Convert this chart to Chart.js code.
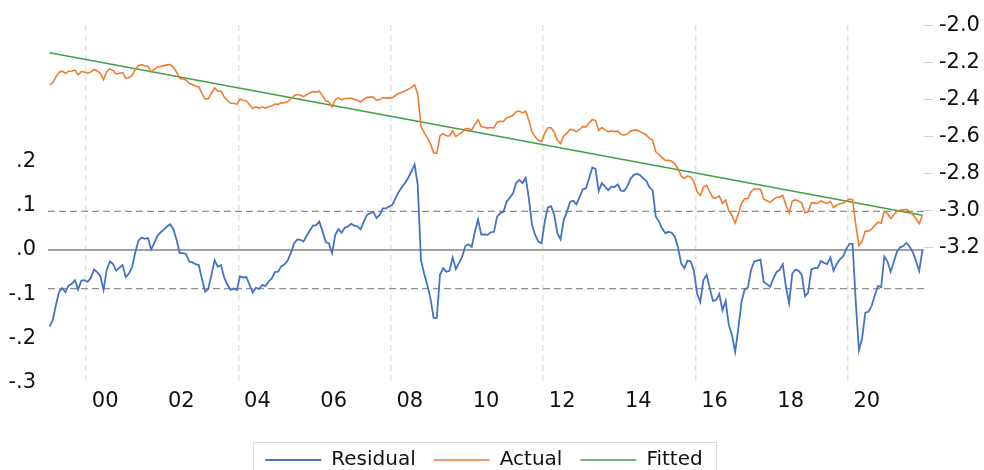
<!DOCTYPE html>
<html>
<head>
<meta charset="utf-8">
<title>Residual, Actual, Fitted</title>
<script src="https://cdn.jsdelivr.net/npm/chart.js@4/dist/chart.umd.min.js"></script>
<style>
  html, body { margin: 0; padding: 0; background: #ffffff; overflow: hidden; }
  #wrap { width: 984px; height: 480px; }
</style>
</head>
<body>
<div id="wrap"><canvas id="chart" width="984" height="480"></canvas></div>
<script>
// Monthly observations, January 1999 to December 2021
const firstYear = 1999;
const lastYear = 2022;

// Residual (left axis)
const residual = [
  -0.173, -0.158, -0.124, -0.094, -0.086, -0.095, -0.080, -0.076, -0.068, -0.089, -0.069, -0.068,
  -0.072, -0.063, -0.044, -0.050, -0.059, -0.090, -0.045, -0.026, -0.032, -0.047, -0.040, -0.034,
  -0.061, -0.053, -0.039, -0.005, 0.021, 0.028, 0.025, 0.027, 0.001, 0.016, 0.032, 0.040,
  0.046, 0.053, 0.058, 0.047, 0.023, -0.007, -0.007, -0.009, -0.026, -0.028, -0.032, -0.034,
  -0.065, -0.094, -0.088, -0.056, -0.023, -0.038, -0.034, -0.062, -0.078, -0.090, -0.087, -0.090,
  -0.059, -0.062, -0.061, -0.079, -0.096, -0.085, -0.088, -0.079, -0.081, -0.071, -0.064, -0.050,
  -0.049, -0.037, -0.033, -0.024, -0.007, 0.014, 0.024, 0.023, 0.019, 0.032, 0.044, 0.055,
  0.056, 0.064, 0.042, 0.018, 0.015, -0.007, 0.034, 0.047, 0.039, 0.050, 0.053, 0.059,
  0.055, 0.053, 0.047, 0.064, 0.079, 0.083, 0.086, 0.072, 0.079, 0.094, 0.094, 0.098,
  0.102, 0.117, 0.131, 0.142, 0.151, 0.163, 0.177, 0.193, 0.147, -0.023, -0.053, -0.079,
  -0.109, -0.153, -0.153, -0.056, -0.041, -0.049, -0.047, -0.017, -0.043, -0.029, -0.015, 0.009,
  0.013, 0.007, 0.041, 0.069, 0.035, 0.035, 0.034, 0.040, 0.041, 0.075, 0.083, 0.086,
  0.109, 0.118, 0.128, 0.151, 0.158, 0.151, 0.163, 0.117, 0.056, 0.034, 0.019, 0.015,
  0.064, 0.096, 0.099, 0.079, 0.038, 0.024, 0.068, 0.086, 0.109, 0.111, 0.103, 0.120,
  0.137, 0.139, 0.162, 0.186, 0.183, 0.133, 0.151, 0.143, 0.135, 0.143, 0.142, 0.148,
  0.134, 0.133, 0.143, 0.160, 0.169, 0.172, 0.169, 0.162, 0.156, 0.141, 0.135, 0.075,
  0.064, 0.049, 0.038, 0.041, 0.039, 0.030, 0.005, -0.030, -0.041, -0.024, -0.026, -0.047,
  -0.098, -0.117, -0.068, -0.056, -0.086, -0.115, -0.113, -0.099, -0.136, -0.115, -0.169, -0.192,
  -0.230, -0.177, -0.117, -0.089, -0.085, -0.045, -0.026, -0.024, -0.022, -0.072, -0.077, -0.083,
  -0.065, -0.050, -0.045, -0.032, -0.083, -0.120, -0.053, -0.044, -0.047, -0.056, -0.104, -0.096,
  -0.044, -0.041, -0.041, -0.025, -0.029, -0.032, -0.017, -0.047, -0.032, -0.021, -0.015, 0.002,
  0.014, 0.014, -0.117, -0.226, -0.199, -0.142, -0.139, -0.126, -0.102, -0.081, -0.084, -0.015,
  -0.026, -0.049, -0.026, -0.004, 0.006, 0.009, 0.016, 0.007, -0.005, -0.026, -0.047, 0.000
];

// Actual (right axis)
const actual = [
  -2.321, -2.309, -2.278, -2.252, -2.247, -2.259, -2.247, -2.246, -2.242, -2.266, -2.249, -2.251,
  -2.258, -2.252, -2.237, -2.246, -2.258, -2.292, -2.250, -2.235, -2.244, -2.262, -2.258, -2.255,
  -2.286, -2.281, -2.270, -2.239, -2.216, -2.212, -2.219, -2.220, -2.249, -2.237, -2.224, -2.220,
  -2.217, -2.213, -2.211, -2.225, -2.252, -2.286, -2.289, -2.294, -2.314, -2.319, -2.327, -2.332,
  -2.366, -2.398, -2.395, -2.367, -2.337, -2.355, -2.354, -2.385, -2.404, -2.420, -2.420, -2.426,
  -2.398, -2.404, -2.407, -2.428, -2.448, -2.440, -2.446, -2.440, -2.446, -2.439, -2.435, -2.424,
  -2.426, -2.418, -2.417, -2.411, -2.397, -2.379, -2.373, -2.377, -2.384, -2.374, -2.365, -2.357,
  -2.360, -2.355, -2.380, -2.407, -2.413, -2.439, -2.401, -2.391, -2.402, -2.394, -2.394, -2.392,
  -2.399, -2.404, -2.413, -2.399, -2.388, -2.387, -2.387, -2.404, -2.400, -2.389, -2.392, -2.391,
  -2.390, -2.378, -2.367, -2.360, -2.354, -2.345, -2.334, -2.321, -2.371, -2.544, -2.577, -2.606,
  -2.639, -2.687, -2.690, -2.596, -2.584, -2.595, -2.596, -2.570, -2.599, -2.588, -2.577, -2.556,
  -2.556, -2.565, -2.534, -2.509, -2.546, -2.549, -2.554, -2.551, -2.553, -2.522, -2.517, -2.518,
  -2.498, -2.492, -2.485, -2.465, -2.462, -2.472, -2.463, -2.512, -2.576, -2.601, -2.620, -2.627,
  -2.581, -2.552, -2.552, -2.576, -2.620, -2.637, -2.596, -2.581, -2.561, -2.563, -2.574, -2.560,
  -2.546, -2.547, -2.528, -2.507, -2.513, -2.566, -2.551, -2.563, -2.574, -2.569, -2.573, -2.570,
  -2.587, -2.592, -2.585, -2.571, -2.565, -2.565, -2.572, -2.582, -2.591, -2.609, -2.618, -2.682,
  -2.696, -2.714, -2.728, -2.728, -2.733, -2.746, -2.774, -2.812, -2.826, -2.812, -2.818, -2.842,
  -2.896, -2.918, -2.872, -2.863, -2.897, -2.929, -2.930, -2.919, -2.959, -2.942, -2.999, -3.025,
  -3.066, -3.016, -2.960, -2.935, -2.934, -2.897, -2.881, -2.882, -2.884, -2.937, -2.945, -2.954,
  -2.939, -2.928, -2.926, -2.916, -2.970, -3.010, -2.946, -2.941, -2.947, -2.959, -3.010, -3.005,
  -2.957, -2.957, -2.960, -2.947, -2.954, -2.961, -2.949, -2.982, -2.970, -2.962, -2.959, -2.946,
  -2.937, -2.940, -3.074, -3.186, -3.163, -3.109, -3.109, -3.099, -3.078, -3.061, -3.067, -3.001,
  -3.015, -3.041, -3.021, -3.003, -2.996, -2.996, -2.992, -3.004, -3.020, -3.044, -3.068, -3.024
];

// Fitted linear trend: value at the first and at the last month
const fitted = [-2.148, -3.024];

// Standard error band drawn around the zero line of the residual
const seBand = 0.087;

// Axis ticks
const xLabelYears = [2000, 2002, 2004, 2006, 2008, 2010, 2012, 2014, 2016, 2018, 2020];
const xLabels = ['00', '02', '04', '06', '08', '10', '12', '14', '16', '18', '20'];
const xGridYears = [2000, 2004, 2008, 2012, 2016, 2020];
const leftTicks = [-0.3, -0.2, -0.1, 0, 0.1, 0.2];
const leftTickLabels = ['-.3', '-.2', '-.1', '.0', '.1', '.2'];
const rightTicks = [-3.2, -3.0, -2.8, -2.6, -2.4, -2.2, -2.0];
const rightTickLabels = ['-3.2', '-3.0', '-2.8', '-2.6', '-2.4', '-2.2', '-2.0'];

const FONT = 'DejaVu Sans';
const TEXT = '#111111';

// month index -> position in years (centre of the month)
const monthX = i => firstYear + (i + 0.5) / 12;
const toPoints = arr => arr.map((v, i) => ({ x: monthX(i), y: v }));
const hLine = v => [{ x: firstYear, y: v }, { x: lastYear, y: v }];

const legendFrame = {
  id: 'legendFrame',
  afterLayout(chart) {
    // nudge the legend row slightly to the left
    if (chart.legend) { chart.legend.left -= 8; chart.legend.right -= 8; }
  },
  afterDraw(chart) {
    const lg = chart.legend;
    if (!lg || !lg.legendHitBoxes || !lg.legendHitBoxes.length) return;
    const hb = lg.legendHitBoxes;
    const first = hb[0], last = hb[hb.length - 1];
    const ctx = chart.ctx;
    ctx.save();
    ctx.strokeStyle = '#dcdcdc';
    ctx.lineWidth = 1;
    const l = Math.round(first.left - 12) + 0.5;
    const t = Math.round(first.top - 8) + 0.5;
    const r = Math.round(last.left + last.width + 13) + 0.5;
    ctx.strokeRect(l, t, r - l, chart.height);
    ctx.restore();
  }
};

new Chart(document.getElementById('chart'), {
  type: 'line',
  data: {
    datasets: [
      { label: 'Residual', data: toPoints(residual), yAxisID: 'yL',
        borderColor: '#4472C4', backgroundColor: '#4472C4', borderWidth: 1.8, order: 1 },
      { label: 'Actual', data: toPoints(actual), yAxisID: 'yR',
        borderColor: '#ED7D31', backgroundColor: '#ED7D31', borderWidth: 1.6, order: 2 },
      { label: 'Fitted', data: [{ x: monthX(0), y: fitted[0] }, { x: monthX(residual.length - 1), y: fitted[1] }],
        yAxisID: 'yR', borderColor: '#3FA046', backgroundColor: '#3FA046', borderWidth: 1.5, order: 3 },
      { label: 'zero', data: hLine(0), yAxisID: 'yL',
        borderColor: '#a3a3a3', borderWidth: 2, order: 10 },
      { label: 'upper', data: hLine(seBand), yAxisID: 'yL',
        borderColor: '#8e8e8e', borderWidth: 1.2, borderDash: [7, 4], order: 10 },
      { label: 'lower', data: hLine(-seBand), yAxisID: 'yL',
        borderColor: '#8e8e8e', borderWidth: 1.2, borderDash: [7, 4], order: 10 }
    ]
  },
  options: {
    responsive: false,
    animation: false,
    devicePixelRatio: 1,
    events: [],
    elements: { point: { radius: 0 }, line: { tension: 0, fill: false } },
    layout: { padding: { top: 25, left: 0, right: 0, bottom: 0 } },
    scales: {
      x: {
        type: 'linear', position: 'bottom', min: firstYear, max: lastYear,
        afterBuildTicks: s => { s.ticks = xLabelYears.map(y => ({ value: y + 0.5 })); },
        ticks: { callback: (v, i) => xLabels[i], font: { family: FONT, size: 21 }, color: TEXT,
                 padding: 6, maxRotation: 0, autoSkip: false },
        grid: { display: false, drawTicks: false },
        border: { display: false },
        afterFit: s => { s.height = 49; }
      },
      xg: {
        type: 'linear', position: 'bottom', min: firstYear, max: lastYear,
        afterBuildTicks: s => { s.ticks = xGridYears.map(y => ({ value: y })); },
        ticks: { display: false },
        grid: { color: '#e2e2e2', lineWidth: 1.5, drawTicks: false },
        border: { display: false, dash: [6, 4] },
        afterFit: s => { s.height = 0; }
      },
      yL: {
        position: 'left', min: -0.3, max: 0.5075,
        afterBuildTicks: s => { s.ticks = leftTicks.map(v => ({ value: v })); },
        ticks: { callback: (v, i) => leftTickLabels[i], font: { family: FONT, size: 21 }, color: TEXT,
                 padding: 12, autoSkip: false },
        grid: { display: false, drawTicks: false },
        border: { display: false },
        afterFit: s => { s.width = 48; }
      },
      yR: {
        position: 'right', min: -3.928, max: -1.998,
        afterBuildTicks: s => { s.ticks = rightTicks.map(v => ({ value: v })); },
        ticks: { callback: (v, i) => rightTickLabels[i], font: { family: FONT, size: 21 }, color: TEXT,
                 padding: 6, autoSkip: false },
        grid: { drawOnChartArea: false, drawTicks: true, tickLength: 9, color: '#d3d3d3', tickColor: '#d3d3d3' },
        border: { display: false },
        afterFit: s => { s.width = 60; }
      }
    },
    plugins: {
      tooltip: { enabled: false },
      legend: {
        position: 'bottom',
        labels: {
          boxWidth: 56, boxHeight: 0, padding: 18, color: TEXT,
          font: { family: FONT, size: 20 },
          filter: item => item.datasetIndex < 3
        }
      }
    }
  },
  plugins: [legendFrame]
});
</script>
</body>
</html>
